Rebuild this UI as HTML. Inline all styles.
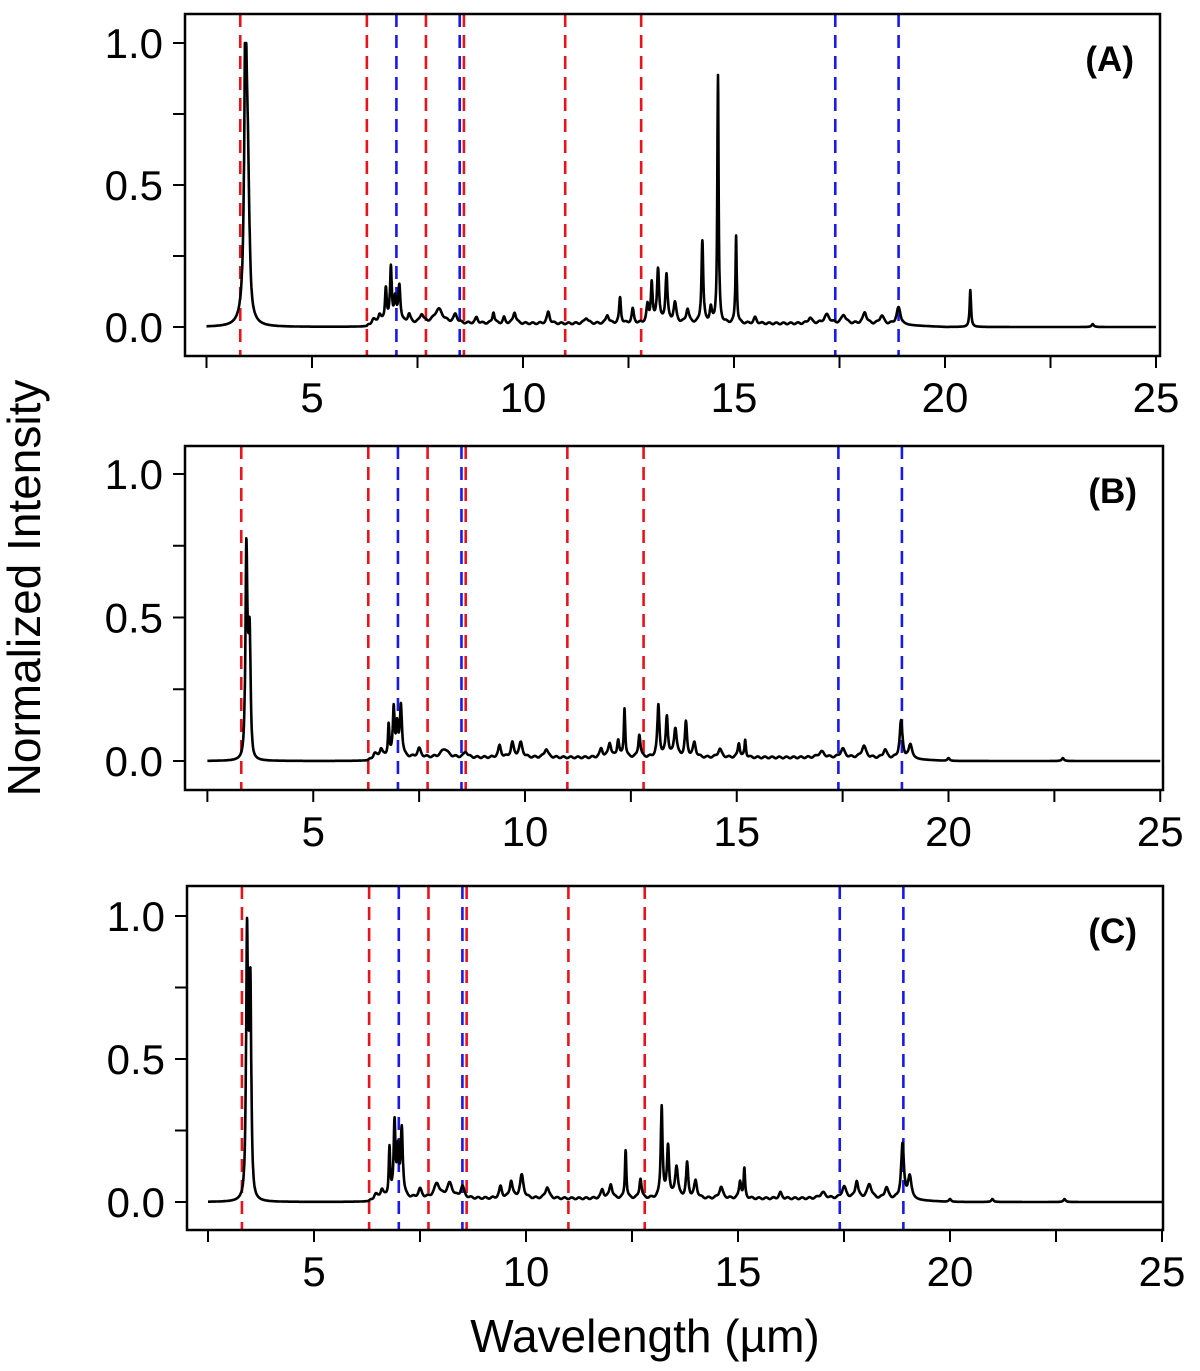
<!DOCTYPE html>
<html><head><meta charset="utf-8"><style>
html,body{margin:0;padding:0;background:#fff;}
svg text{font-family:"Liberation Sans","DejaVu Sans",sans-serif;}
</style></head><body>
<svg id="s" width="1200" height="1366" xmlns="http://www.w3.org/2000/svg"></svg>
<script>
const s=document.getElementById('s');
let h='';
const panels=[
 {L:185,R:1160,T:14,B:356,y1:43,y0:327,x0:101,k:42.2,lab:'(A)',g:0.3,peaks:[
 [3.42,0.75,0.025],[3.47,0.3,0.06],[3.40,0.1,0.08],[6.45,0.02,0.05],[6.6,0.03,0.04],[6.75,0.12,0.025],[6.87,0.19,0.025],[6.97,0.08,0.03],[7.07,0.13,0.03],[7.3,0.03,0.04],[7.6,0.03,0.05],[8.0,0.05,0.12],[8.4,0.03,0.05],[8.9,0.02,0.04],[9.3,0.04,0.03],[9.55,0.02,0.03],[9.8,0.04,0.04],[10.6,0.04,0.04],[11.5,0.02,0.05],[12.0,0.03,0.04],[12.3,0.09,0.025],[12.6,0.05,0.03],[12.95,0.06,0.03],[13.05,0.14,0.025],[13.2,0.19,0.03],[13.4,0.17,0.03],[13.6,0.07,0.04],[13.9,0.05,0.04],[14.25,0.29,0.025],[14.45,0.05,0.03],[14.62,0.87,0.018],[15.05,0.31,0.018],[15.5,0.02,0.04],[16.8,0.02,0.05],[17.2,0.03,0.08],[17.6,0.03,0.06],[18.1,0.04,0.05],[18.5,0.03,0.06],[18.9,0.06,0.06],[20.6,0.13,0.02],[23.5,0.01,0.03]]},
 {L:185,R:1163,T:446,B:790,y1:474,y0:761,x0:101.5,k:42.35,lab:'(B)',g:0.2,peaks:[
 [3.42,0.62,0.025],[3.5,0.31,0.025],[6.45,0.02,0.05],[6.6,0.03,0.04],[6.78,0.11,0.02],[6.9,0.17,0.025],[6.98,0.1,0.025],[7.07,0.18,0.03],[7.5,0.03,0.05],[8.1,0.03,0.1],[8.6,0.02,0.05],[9.4,0.04,0.04],[9.7,0.05,0.04],[9.9,0.05,0.05],[10.5,0.03,0.05],[11.8,0.03,0.04],[12.0,0.05,0.04],[12.2,0.06,0.03],[12.35,0.17,0.02],[12.7,0.08,0.03],[13.15,0.18,0.03],[13.35,0.14,0.03],[13.55,0.1,0.04],[13.8,0.12,0.03],[14.0,0.05,0.04],[14.6,0.03,0.05],[15.05,0.05,0.03],[15.2,0.06,0.02],[17.0,0.02,0.08],[17.5,0.03,0.06],[18.0,0.04,0.06],[18.5,0.03,0.05],[18.88,0.13,0.04],[19.1,0.05,0.05],[20.0,0.01,0.03],[22.7,0.01,0.03]]},
 {L:187,R:1163,T:886,B:1230,y1:916,y0:1202,x0:102,k:42.4,lab:'(C)',g:0.2,peaks:[
 [3.42,0.81,0.025],[3.5,0.62,0.025],[6.45,0.02,0.05],[6.6,0.03,0.04],[6.78,0.17,0.02],[6.9,0.26,0.025],[6.98,0.15,0.025],[7.07,0.24,0.03],[7.5,0.03,0.05],[7.9,0.05,0.08],[8.2,0.05,0.08],[8.5,0.04,0.05],[9.4,0.04,0.04],[9.65,0.06,0.04],[9.9,0.08,0.05],[10.5,0.04,0.05],[11.8,0.03,0.04],[12.0,0.05,0.04],[12.35,0.17,0.02],[12.7,0.07,0.03],[13.2,0.32,0.025],[13.35,0.18,0.03],[13.55,0.11,0.04],[13.8,0.12,0.03],[14.0,0.06,0.04],[14.6,0.04,0.05],[15.05,0.06,0.03],[15.15,0.1,0.02],[16.0,0.02,0.04],[17.0,0.02,0.08],[17.5,0.04,0.06],[17.8,0.06,0.04],[18.1,0.05,0.06],[18.5,0.04,0.05],[18.88,0.19,0.04],[19.05,0.08,0.05],[20.0,0.01,0.03],[21.0,0.01,0.03],[22.7,0.01,0.03]]}
];
const reds=[3.3,6.3,7.7,8.6,11.0,12.8], blues=[7.0,8.5,17.4,18.9];
for(const p of panels){
 const X=v=>p.x0+p.k*v, Y=v=>p.y0-(p.y0-p.y1)*v;
 for(const r of reds) h+=`<line x1="${X(r)}" y1="${p.T}" x2="${X(r)}" y2="${p.B}" stroke="#e8141c" stroke-width="2.6" stroke-dasharray="13,8"/>`;
 for(const b of blues) h+=`<line x1="${X(b)}" y1="${p.T}" x2="${X(b)}" y2="${p.B}" stroke="#1a1ae6" stroke-width="2.6" stroke-dasharray="13,8"/>`;
 let d='';
 for(let x=2.5;x<=25;x+=0.005){
  let y=0;
  for(const [c,a,w] of p.peaks){const t=(x-c)/w;y+=a/(1+t*t);}
  y+=p.g*Math.exp(-Math.pow((x-3.46)/0.06,2));
  if(x>6.3&&x<20)y+=0.012*Math.min(1,(x-6.3)*3)*Math.min(1,(20-x)/2);
  if(x>6.3&&x<19)y+=0.003*Math.sin(x*37);
  y=Math.min(y,1.0);
  d+=(d?'L':'M')+X(x).toFixed(1)+','+Y(y).toFixed(1);
 }
 h+=`<path d="${d}" fill="none" stroke="#000" stroke-width="2.6" stroke-linejoin="round"/>`;
 h+=`<rect x="${p.L}" y="${p.T}" width="${p.R-p.L}" height="${p.B-p.T}" fill="none" stroke="#000" stroke-width="2.5"/>`;
 for(let i=0;i<=4;i++){const v=i*0.25,y=Y(v);h+=`<line x1="${p.L-12}" y1="${y}" x2="${p.L}" y2="${y}" stroke="#000" stroke-width="2"/>`;
  if(i%2==0)h+=`<text x="${p.L-22}" y="${y+15}" font-size="42" text-anchor="end">${v.toFixed(1)}</text>`;}
 for(let v=2.5;v<=25.01;v+=2.5){const x=X(v);h+=`<line x1="${x}" y1="${p.B}" x2="${x}" y2="${p.B+12}" stroke="#000" stroke-width="2"/>`;
  if(v%5==0)h+=`<text x="${x}" y="${p.B+56}" font-size="42" text-anchor="middle">${v}</text>`;}
 h+=`<text x="${p.R-26}" y="${p.T+57}" font-size="35" font-weight="bold" text-anchor="end">${p.lab}</text>`;
}
h+=`<text x="645" y="1352" font-size="46" text-anchor="middle">Wavelength (µm)</text>`;
h+=`<text transform="translate(40,588) rotate(-90)" font-size="46" text-anchor="middle">Normalized Intensity</text>`;
s.innerHTML=h;
</script>
</body></html>
